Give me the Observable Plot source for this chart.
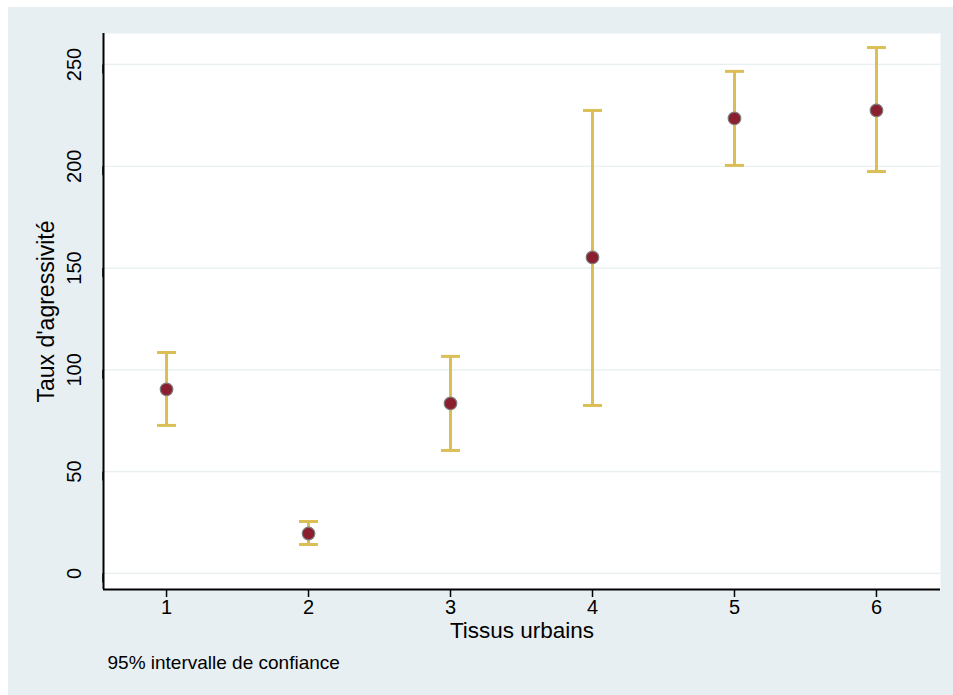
<!DOCTYPE html>
<html>
<head>
<meta charset="utf-8">
<script src="https://cdn.jsdelivr.net/npm/d3@7"></script>
<script src="https://cdn.jsdelivr.net/npm/@observablehq/plot@0.6"></script>
<style>
  html, body { margin: 0; padding: 0; background: #ffffff; }
  #wrap { padding: 7px 0 0 8px; width: 945px; height: 688px; }
  #wrap svg { display: block; }
</style>
</head>
<body>
<div id="wrap"></div>
<script>
// Data
const categories = [1, 2, 3, 4, 5, 6];
const means = [90.4, 19.6, 83.5, 155.2, 223.5, 227.4];
const lower = [72.7, 14.2, 60.4, 82.5, 200.4, 197.4];
const upper = [108.5, 25.5, 106.6, 227.4, 246.6, 258.3];
const yTicks = [0, 50, 100, 150, 200, 250];
const xTicks = [1, 2, 3, 4, 5, 6];
const xTitle = ["Tissus urbains"];
const yTitle = ["Taux d'agressivité"];
const note = ["95% intervalle de confiance"];

const xDomain = [0.556, 6.451];
const yDomain = [-7.9, 265.2];

const rows = categories.map((c, i) => ({cat: c, mean: means[i], lo: lower[i], hi: upper[i]}));

const gold = "#dbbe55";
const capSymbol = {
  draw(context, size) {
    const r = Math.sqrt(size / Math.PI);
    context.moveTo(-r, 0);
    context.lineTo(r, 0);
  }
};

const font = "'Liberation Sans', Arial, sans-serif";

const chart = Plot.plot({
  width: 945,
  height: 688,
  marginLeft: 95,
  marginRight: 13,
  marginTop: 26,
  marginBottom: 106,
  style: {background: "#e8eff2", fontFamily: font, color: "#000"},
  x: {domain: xDomain},
  y: {domain: yDomain},
  marks: [
    Plot.frame({fill: "#ffffff", stroke: "none"}),
    Plot.ruleY(yTicks, {stroke: "#e6eef0", strokeWidth: 1.2}),
    Plot.ruleX(rows, {x: "cat", y1: "lo", y2: "hi", stroke: gold, strokeWidth: 3}),
    Plot.dot(rows, {x: "cat", y: "lo", symbol: capSymbol, r: 9.5, stroke: gold, strokeWidth: 3, fill: "none"}),
    Plot.dot(rows, {x: "cat", y: "hi", symbol: capSymbol, r: 9.5, stroke: gold, strokeWidth: 3, fill: "none"}),
    Plot.dot(rows, {x: "cat", y: "mean", r: 6.3, fill: "#8c1f2f", stroke: "#7d7d7d", strokeWidth: 1.2}),
    Plot.ruleX([xDomain[0]], {stroke: "#000", strokeWidth: 2}),
    Plot.ruleY([yDomain[0]], {stroke: "#000", strokeWidth: 2}),
    Plot.axisY({
      ticks: yTicks, tickSize: 9, tickPadding: 14, tickFormat: d => String(d),
      rotate: -90, textAnchor: "middle", lineAnchor: "bottom",
      fontSize: 20, label: null, stroke: "#000", strokeWidth: 1.5
    }),
    Plot.axisX({
      ticks: xTicks, tickSize: 8, tickPadding: 2, tickFormat: d => String(d),
      fontSize: 20, label: null, stroke: "#000", strokeWidth: 1.5
    }),
    Plot.text(xTitle, {frameAnchor: "bottom", text: d => d, dy: 48, lineAnchor: "bottom", fontSize: 22.5, fill: "#000"}),
    Plot.text(yTitle, {frameAnchor: "left", text: d => d, dx: -50, rotate: -90, lineAnchor: "bottom", textAnchor: "middle", fontSize: 23, fill: "#000"}),
    Plot.text(note, {frameAnchor: "bottom-left", text: d => d, dx: 4, dy: 79, lineAnchor: "bottom", textAnchor: "start", fontSize: 19, fill: "#000"})
  ]
});

document.getElementById("wrap").appendChild(chart);
</script>
</body>
</html>
